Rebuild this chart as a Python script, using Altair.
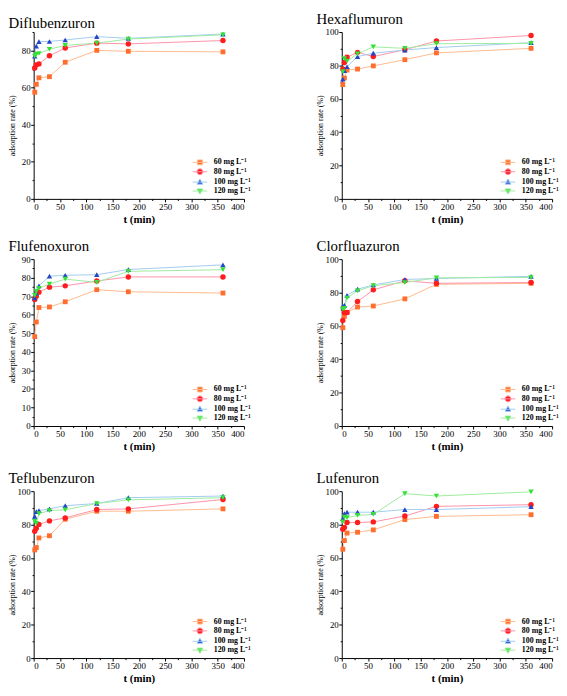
import altair as alt
import pandas as pd

times = [2, 5, 10, 30, 60, 120, 180, 360]
series = ["60 mg L\u207b\u00b9", "80 mg L\u207b\u00b9", "100 mg L\u207b\u00b9", "120 mg L\u207b\u00b9"]

diflubenzuron_60 = [57.5, 61.8, 65.3, 65.9, 73.7, 80.1, 79.6, 79.3]
diflubenzuron_80 = [70.6, 72.3, 72.8, 77.2, 81.4, 84.0, 83.6, 85.4]
diflubenzuron_100 = [77.0, 82.4, 84.8, 84.9, 85.7, 87.5, 86.6, 88.9]
diflubenzuron_120 = [77.0, 78.0, 78.4, 80.7, 82.8, 84.0, 86.2, 88.5]

hexaflumuron_60 = [68.5, 72.4, 77.2, 77.8, 79.7, 83.4, 87.5, 90.2]
hexaflumuron_80 = [77.8, 81.7, 84.9, 87.8, 85.3, 89.4, 94.6, 97.9]
hexaflumuron_100 = [71.8, 76.8, 79.2, 85.3, 87.3, 89.2, 90.7, 93.6]
hexaflumuron_120 = [76.3, 84.0, 82.6, 86.9, 91.1, 90.2, 93.0, 93.2]

flufenoxuron_60 = [48.2, 56.1, 63.9, 64.2, 67.0, 73.5, 72.4, 71.7]
flufenoxuron_80 = [68.2, 70.0, 72.2, 74.9, 75.6, 78.2, 80.4, 80.4]
flufenoxuron_100 = [69.1, 71.7, 75.6, 80.8, 81.3, 81.6, 84.4, 86.9]
flufenoxuron_120 = [70.5, 72.6, 74.3, 76.6, 79.2, 77.5, 83.4, 84.3]

clorfluazuron_60 = [58.9, 65.7, 68.0, 71.3, 71.9, 76.2, 84.9, 85.5]
clorfluazuron_80 = [63.2, 68.0, 68.0, 74.6, 81.6, 87.0, 85.5, 86.0]
clorfluazuron_100 = [71.9, 72.3, 78.3, 82.0, 84.5, 87.8, 88.4, 89.7]
clorfluazuron_120 = [70.0, 70.5, 76.7, 81.0, 84.1, 86.0, 88.8, 89.0]

teflubenzuron_60 = [64.8, 66.2, 72.0, 73.3, 83.2, 88.0, 88.0, 89.4]
teflubenzuron_80 = [76.0, 77.8, 80.1, 82.2, 84.0, 89.0, 89.4, 95.0]
teflubenzuron_100 = [84.9, 87.8, 88.4, 89.4, 91.3, 92.6, 96.1, 97.1]
teflubenzuron_120 = [82.0, 80.7, 86.5, 88.4, 88.8, 92.6, 94.8, 96.1]

lufenuron_60 = [65.2, 70.4, 74.9, 75.4, 76.8, 83.0, 84.9, 85.9]
lufenuron_80 = [77.2, 78.3, 81.2, 81.2, 81.6, 85.1, 90.9, 91.9]
lufenuron_100 = [83.6, 86.5, 87.4, 87.4, 87.4, 89.0, 89.0, 90.7]
lufenuron_120 = [81.6, 84.5, 84.1, 85.5, 86.1, 98.5, 97.1, 99.6]

SERIF = "Liberation Serif"
W, H = 213, 169
marker_colors = ["#FF6E2E", "#FF1C1C", "#2446C6", "#36E036"]
line_colors = ["#FFBA8C", "#FF92AA", "#A2CCF0", "#9EEC9E"]
marker_shapes = ["square", "circle", "triangle-up", "triangle-down"]
marker_sizes = [24, 30, 30, 30]
# legend symbols: a short line with the series marker on it (unit = 3.5 px)
legend_paths = [
    "M-2.1,0H2.1M-0.71,-0.71H0.71V0.71H-0.71Z",
    "M-2.1,0H2.1M-0.86,0A0.86,0.86,0,1,0,0.86,0A0.86,0.86,0,1,0,-0.86,0Z",
    "M-2.1,0H2.1M0,-0.9L0.86,0.6H-0.86Z",
    "M-2.1,0H2.1M0,0.9L0.86,-0.6H-0.86Z",
]


def panel(title, values, ymax, major, minor):
    rows = []
    for s, vals in zip(series, values):
        for t, v in zip(times, vals):
            rows.append({"t": t, "rate": v, "conc": s})
    df = pd.DataFrame(rows)
    base = alt.Chart(df)

    x = alt.X(
        "t:Q",
        scale=alt.Scale(domain=[0, 400], nice=False),
        axis=alt.Axis(
            values=list(range(0, 401, 25)),
            labelExpr="datum.value % 50 == 0 ? datum.label : ''",
            tickSize={"condition": {"test": "datum.value % 50 == 0", "value": 3}, "value": 1.6},
            title="t (min)",
            titleFontSize=11,
            titleFontWeight="bold",
            titlePadding=2,
            labelPadding=1,
        ),
    )
    y = alt.Y(
        "rate:Q",
        scale=alt.Scale(domain=[0, ymax], nice=False),
        axis=alt.Axis(
            values=list(range(0, ymax + 1, minor)),
            labelExpr=f"datum.value % {major} == 0 ? datum.label : ''",
            tickSize={"condition": {"test": f"datum.value % {major} == 0", "value": 3}, "value": 1.6},
            title="adsorption rate (%)",
            titleFontSize=8,
            titleFontWeight="normal",
            labelPadding=0.5,
            titleX=-17.5,
            titleY=H / 2 + 10,
        ),
    )

    leg = alt.Legend(
        orient="none", legendX=161, legendY=128, title=None, padding=0,
        symbolSize=49, symbolStrokeWidth=1, symbolOpacity=1, symbolOffset=3.35, rowPadding=-1.5,
        labelOffset=10, labelFont=SERIF, labelFontSize=8, labelFontWeight="bold",
        labelColor="black",
    )
    stroke_enc = alt.Stroke("conc:N", scale=alt.Scale(domain=series, range=line_colors), legend=leg)

    lines = base.mark_line(strokeWidth=1).encode(x=x, y=y, stroke=stroke_enc)
    layers = [lines]
    for i, s in enumerate(series):
        layers.append(
            base.transform_filter(alt.datum.conc == s)
            .mark_point(filled=True, shape=marker_shapes[i], size=marker_sizes[i],
                        color=marker_colors[i], opacity=1)
            .encode(x=x, y=y)
        )
    legend_layer = base.mark_point(filled=True, opacity=0).encode(
        x=x, y=y,
        shape=alt.Shape("conc:N", scale=alt.Scale(domain=series, range=legend_paths), legend=leg),
        fill=alt.Fill("conc:N", scale=alt.Scale(domain=series, range=marker_colors), legend=leg),
        stroke=stroke_enc,
    )
    layers.append(legend_layer)
    return alt.layer(*layers).properties(
        width=W, height=H,
        title=alt.TitleParams(title, anchor="start", frame="bounds", font=SERIF,
                              fontSize=15, fontWeight="normal", offset=1, color="black"),
    )


def indep(c):
    return c.resolve_scale(shape="independent", fill="independent", stroke="independent").resolve_legend(
        shape="independent", fill="independent", stroke="independent")


p1 = panel("Diflubenzuron", [diflubenzuron_60, diflubenzuron_80, diflubenzuron_100, diflubenzuron_120], 90, 20, 10)
p2 = panel("Hexaflumuron", [hexaflumuron_60, hexaflumuron_80, hexaflumuron_100, hexaflumuron_120], 100, 20, 10)
p3 = panel("Flufenoxuron", [flufenoxuron_60, flufenoxuron_80, flufenoxuron_100, flufenoxuron_120], 90, 10, 5)
p4 = panel("Clorfluazuron", [clorfluazuron_60, clorfluazuron_80, clorfluazuron_100, clorfluazuron_120], 100, 20, 10)
p5 = panel("Teflubenzuron", [teflubenzuron_60, teflubenzuron_80, teflubenzuron_100, teflubenzuron_120], 100, 20, 10)
p6 = panel("Lufenuron", [lufenuron_60, lufenuron_80, lufenuron_100, lufenuron_120], 100, 20, 10)

row1 = indep(alt.hconcat(p1, p2, spacing=66))
row2 = indep(alt.hconcat(p3, p4, spacing=66))
row3 = indep(alt.hconcat(p5, p6, spacing=66))
lower = indep(alt.vconcat(row2, row3, spacing=20))

chart = indep(alt.vconcat(row1, lower, spacing=15)).properties(
    padding={"left": 0, "top": 0, "right": 0, "bottom": 0}, background="white"
).configure_view(stroke=None).configure_axis(
    grid=False, domainColor="black", tickColor="black", labelColor="black", titleColor="black",
    labelFont=SERIF, titleFont=SERIF, labelFontSize=9, domainWidth=1, tickWidth=1,
)

chart.save("out.html", embed_options={"renderer": "svg", "actions": False})
